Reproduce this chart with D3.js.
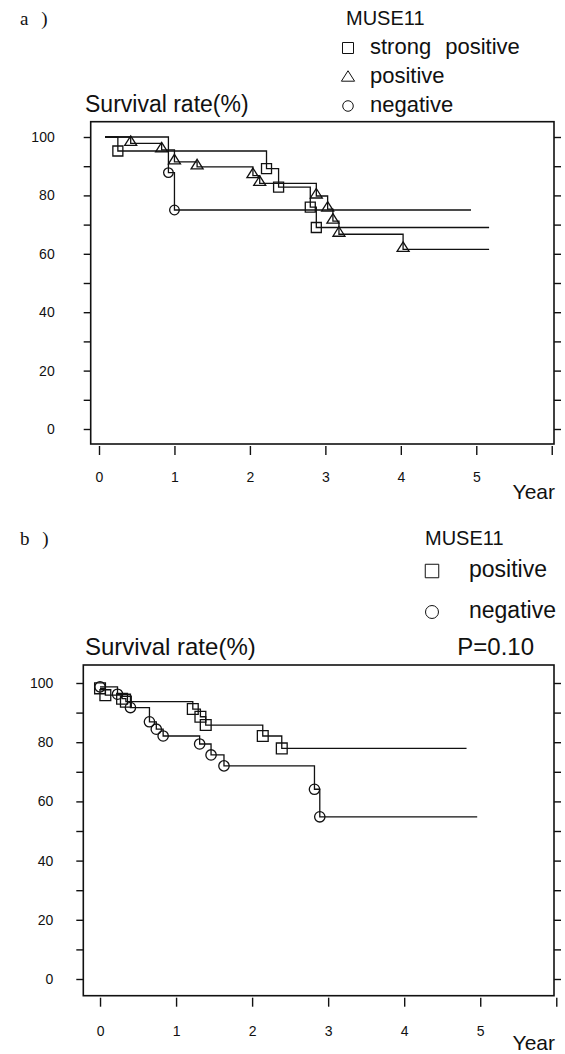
<!DOCTYPE html>
<html>
<head>
<meta charset="utf-8">
<script src="https://cdn.jsdelivr.net/npm/d3@7"></script>
<style>
  body { margin: 0; background: #fff; }
  text { font-family: "Liberation Sans", Arial, sans-serif; fill: #111; }
</style>
</head>
<body>
<div id="chart"></div>
<script>
// panel a : MUSE11 strong positive / positive / negative
const startA = [0.08, 100];
const sqA_t  = [0.25, 2.22, 2.38, 2.80, 2.88];
const sqA_p  = [95.2, 89.2, 82.8, 76.0, 69.0];
const sqA_end = 5.17;
const triA_t = [0.42, 0.83, 1.00, 1.30, 2.04, 2.13, 2.88, 3.03, 3.10, 3.18, 4.03];
const triA_p = [97.8, 95.6, 91.5, 89.8, 86.8, 84.1, 79.8, 75.3, 71.2, 66.7, 61.5];
const triA_end = 5.17;
const cirA_t = [0.92, 1.00];
const cirA_p = [87.8, 75.0];
const cirA_end = 4.93;

// panel b : MUSE11 positive / negative
const sqB_t  = [0, 0.07, 0.29, 0.34, 1.22, 1.32, 1.39, 2.14, 2.39];
const sqB_p  = [98.2, 95.9, 94.7, 93.7, 91.2, 88.6, 85.8, 82.1, 77.9];
const sqB_end = 4.82;
const cirB_t = [0, 0.23, 0.40, 0.65, 0.74, 0.83, 1.31, 1.46, 1.63, 2.82, 2.89];
const cirB_p = [98.7, 96.2, 91.7, 86.9, 84.4, 82.1, 79.4, 75.7, 72.0, 64.1, 54.8];
const cirB_end = 4.96;

const yearTicks = [0, 1, 2, 3, 4, 5, 6];
const yearLabels = [0, 1, 2, 3, 4, 5];
const rateTicks = d3.range(0, 101, 10);
const rateLabels = [0, 20, 40, 60, 80, 100];

const svg = d3.select("#chart").append("svg")
    .attr("width", 565)
    .attr("height", 1054);

function symbolPath(kind, x, y, s) {
    s = s || 1;
    if (kind == "square") {
        let h = 5 * s;
        return "M" + (x - h) + "," + (y - h) + "h" + (2 * h) + "v" + (2 * h) + "h" + (-2 * h) + "z";
    } else if (kind == "triangle") {
        return "M" + x + "," + (y - 7.5 * s) + "L" + (x + 6 * s) + "," + (y + 2 * s) + "L" + (x - 6 * s) + "," + (y + 2 * s) + "z";
    } else {
        let r = 4.8 * s;
        return "M" + (x - r) + "," + y + "a" + r + "," + r + " 0 1,0 " + (2 * r) + ",0a" + r + "," + r + " 0 1,0 " + (-2 * r) + ",0";
    }
}

function drawPanel(cfg) {
    const g = svg.append("g");
    const x = d3.scaleLinear().domain(cfg.xDomain).range([cfg.left, cfg.right]);
    const y = d3.scaleLinear().domain([0, 100]).range(cfg.yRange);

    // frame
    g.append("rect")
        .attr("x", cfg.left).attr("y", cfg.top)
        .attr("width", cfg.right - cfg.left).attr("height", cfg.bottom - cfg.top)
        .attr("fill", "none").attr("stroke", "#111").attr("stroke-width", 1.6);

    // y ticks left + right
    const yl = g.append("g").attr("transform", "translate(" + cfg.left + ",0)")
        .call(d3.axisLeft(y).tickValues(rateTicks).tickSize(7).tickFormat(""));
    const yr = g.append("g").attr("transform", "translate(" + cfg.right + ",0)")
        .call(d3.axisRight(y).tickValues(rateTicks).tickSize(7).tickFormat(""));
    const ylab = g.append("g").attr("transform", "translate(" + cfg.left + ",0)")
        .call(d3.axisLeft(y).tickValues(rateLabels).tickSize(0).tickPadding(cfg.yPad));
    ylab.selectAll("text").style("font-size", "14px");

    // x ticks
    const xt = g.append("g").attr("transform", "translate(0," + (cfg.bottom + 2) + ")")
        .call(d3.axisBottom(x).tickValues(yearTicks).tickSize(9).tickFormat(""));
    const xlab = g.append("g").attr("transform", "translate(0," + cfg.bottom + ")")
        .call(d3.axisBottom(x).tickValues(yearLabels).tickSize(0).tickPadding(cfg.xPad).tickFormat(d3.format("d")));
    xlab.selectAll("text").style("font-size", "14px");

    [yl, yr, ylab, xt, xlab].forEach(a => {
        a.select(".domain").remove();
        a.selectAll("line").attr("stroke", "#111").attr("stroke-width", 1.4);
    });

    // curves
    const line = d3.line()
        .x(d => x(d[0]))
        .y(d => y(d[1]))
        .curve(d3.curveStepAfter);

    cfg.series.forEach(s => {
        let pts = [];
        if (s.start) pts.push(s.start);
        for (let i = 0; i < s.t.length; i++) pts.push([s.t[i], s.p[i]]);
        pts.push([s.end, s.p[s.p.length - 1]]);

        g.append("path")
            .datum(pts)
            .attr("fill", "none")
            .attr("stroke", "#111")
            .attr("stroke-width", 1.3)
            .attr("d", line);

        g.selectAll(null)
            .data(s.t.map((d, i) => [d, s.p[i]]))
            .enter()
            .append("path")
            .attr("d", d => symbolPath(s.kind, x(d[0]), y(d[1]), cfg.markScale))
            .attr("fill", "none")
            .attr("stroke", "#111")
            .attr("stroke-width", 1.3);
    });

    // texts
    g.append("text").attr("x", 20).attr("y", cfg.headY)
        .style("font-family", "'Liberation Serif', 'DejaVu Serif', serif")
        .style("letter-spacing", "4px")
        .style("font-size", "19px").text(cfg.tag);
    g.append("text").attr("x", 85).attr("y", cfg.titleY)
        .style("font-size", cfg.titleSize).text("Survival rate(%)");
    g.append("text").attr("x", cfg.right + 1).attr("y", cfg.yearY)
        .attr("text-anchor", "end")
        .style("font-size", "21px").text("Year");
    g.append("text").attr("x", cfg.legX).attr("y", cfg.headY)
        .style("font-size", "20px").text("MUSE11");

    cfg.legend.forEach(l => {
        g.append("path")
            .attr("d", symbolPath(l.kind, cfg.legX + cfg.symDx, l.y - 6 + (l.kind == "triangle" ? 2 : 0), cfg.symScale))
            .attr("fill", "none").attr("stroke", "#111").attr("stroke-width", 1);
        g.append("text").attr("x", cfg.legX + cfg.legGap).attr("y", l.y)
            .style("font-size", cfg.legSize)
            .style("word-spacing", "8px")
            .text(l.label);
    });

    if (cfg.pval) {
        g.append("text").attr("x", 534).attr("y", cfg.titleY)
            .attr("text-anchor", "end")
            .style("font-size", "24px").text(cfg.pval);
    }
}

drawPanel({
    tag: "a )",
    xDomain: [-0.11, 6.03],
    left: 90.7, right: 554, top: 121.7, bottom: 444,
    yRange: [429, 137],
    yPad: 36, xPad: 28,
    headY: 25, titleY: 112, titleSize: "23px", yearY: 499,
    legX: 346, symDx: 2, symScale: 1.1, legGap: 24, legSize: "22px",
    markScale: 1,
    legend: [
        {kind: "square", label: "strong positive", y: 54},
        {kind: "triangle", label: "positive", y: 83},
        {kind: "circle", label: "negative", y: 112}
    ],
    series: [
        {kind: "square", start: startA, t: sqA_t, p: sqA_p, end: sqA_end},
        {kind: "triangle", start: startA, t: triA_t, p: triA_p, end: triA_end},
        {kind: "circle", start: startA, t: cirA_t, p: cirA_p, end: cirA_end}
    ]
});

drawPanel({
    tag: "b )",
    xDomain: [-0.22, 5.97],
    left: 83.3, right: 554, top: 665, bottom: 995.7,
    yRange: [979, 683],
    yPad: 30, xPad: 30,
    headY: 545, titleY: 655, titleSize: "24px", yearY: 1050,
    legX: 425, symDx: 7, symScale: 1.35, legGap: 44, legSize: "23px",
    markScale: 1.08,
    legend: [
        {kind: "square", label: "positive", y: 577},
        {kind: "circle", label: "negative", y: 618}
    ],
    pval: "P=0.10",
    series: [
        {kind: "square", t: sqB_t, p: sqB_p, end: sqB_end},
        {kind: "circle", t: cirB_t, p: cirB_p, end: cirB_end}
    ]
});
</script>
</body>
</html>
